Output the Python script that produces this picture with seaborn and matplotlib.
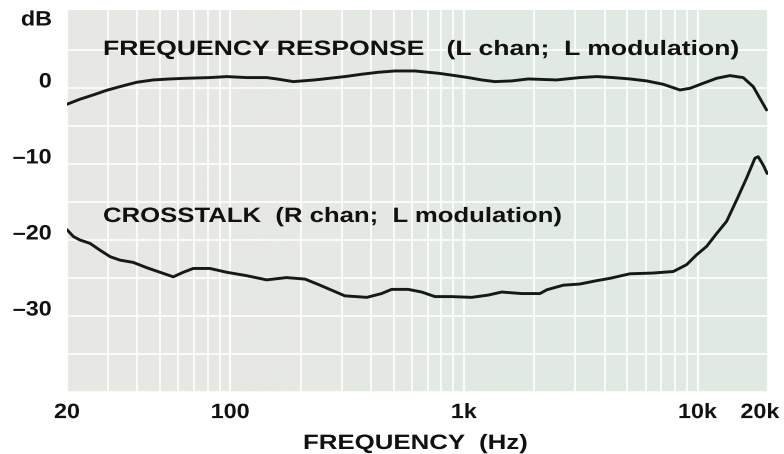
import numpy as np
import pandas as pd
import matplotlib
matplotlib.use("Agg")
import matplotlib.pyplot as plt
from matplotlib.ticker import FixedLocator, LogLocator, NullFormatter
from matplotlib.colors import LinearSegmentedColormap
from matplotlib.patheffects import AbstractPathEffect
from matplotlib.transforms import Affine2D, ScaledTranslation
import seaborn as sns

# Frequency response, left channel with left modulation (dB)
fr_freq = [20, 22.7, 25.9, 29.6, 33.7, 39.7, 46.8, 55.2, 65, 81.8, 96.5, 117.5,
           143, 158, 186, 230, 309, 365, 430, 506, 617, 776, 915, 1043, 1190,
           1357, 1600, 1884, 2490, 3130, 3700, 4350, 5130, 6050, 7120, 8400,
           9270, 10560, 12060, 13740, 15660, 17290, 18460, 19720]
fr_db = [-3.2, -2.54, -1.97, -1.36, -0.88, -0.31, 0.0, 0.13, 0.22, 0.31, 0.44,
         0.31, 0.31, 0.13, -0.22, 0.0, 0.44, 0.75, 1.01, 1.18, 1.18, 0.88, 0.57,
         0.31, 0.0, -0.22, -0.13, 0.13, 0.0, 0.31, 0.44, 0.31, 0.13, -0.13,
         -0.57, -1.32, -1.10, -0.44, 0.22, 0.57, 0.31, -0.88, -2.41, -3.95]

# Crosstalk, right channel with left modulation (dB)
ct_freq = [20, 21.3, 22.7, 25.1, 27.7, 30.6, 33.7, 38.4, 43.9, 50, 57, 62.9,
           69.4, 81.8, 96.5, 117.5, 143, 174, 209, 242, 309, 384, 444, 490,
           577, 659, 751, 885, 1078, 1270, 1449, 1765, 2114, 2264, 2660, 3130,
           3700, 4210, 5130, 6450, 7860, 8970, 9900, 10920, 12060, 13300,
           14680, 16200, 17580, 18160, 19080, 19840]
ct_db = [-19.7, -20.6, -21.05, -21.5, -22.4, -23.25, -23.7, -24.0, -24.7, -25.3,
         -25.9, -25.3, -24.8, -24.8, -25.3, -25.75, -26.3, -26.0, -26.2, -27.0,
         -28.4, -28.6, -28.1, -27.55, -27.55, -27.9, -28.5, -28.5, -28.6, -28.3,
         -27.9, -28.1, -28.1, -27.6, -27.0, -26.85, -26.4, -26.1, -25.5, -25.4,
         -25.2, -24.3, -23.0, -21.9, -20.2, -18.6, -15.8, -12.9, -10.3, -10.1,
         -11.2, -12.3]

x_ticks = [20, 100, 1000, 10000, 20000]
x_labels = ["20", "100", "1k", "10k", "20k"]
y_ticks = [0, -10, -20, -30]
y_labels = ["0", "\u201310", "\u201320", "\u201330"]


class HStretch(AbstractPathEffect):
    """Widen glyphs horizontally (loose typewriter set) about a chosen anchor."""

    def __init__(self, sx=1.0, anchor="left"):
        super().__init__()
        self.sx = sx
        self.anchor = anchor

    def draw_path(self, renderer, gc, tpath, affine, rgbFace=None):
        ext = tpath.get_extents()
        a = {"left": 0.0, "center": (ext.x0 + ext.x1) / 2, "right": ext.x1}[self.anchor]
        stretch = Affine2D().translate(-a, 0).scale(self.sx, 1.0).translate(a, 0)
        renderer.draw_path(gc, tpath, stretch + affine, rgbFace)


sns.set_theme(style="white")
plt.rcParams["font.family"] = ["Liberation Sans", "DejaVu Sans"]

W, H = 784, 454
fig = plt.figure(figsize=(W / 100, H / 100), dpi=100)
ax = fig.add_axes([67 / W, 1 - 392 / H, 701 / W, 382 / H])

# paper background: warm grey fading into a pale green toward the treble end
bg = LinearSegmentedColormap.from_list(
    "paper", ["#e8e8e3", "#e6e8e3", "#e1eae4", "#e2e9e3"])
ax.imshow(np.linspace(0, 1, 256)[None, :], cmap=bg, extent=[0, 1, 0, 1],
          transform=ax.transAxes, aspect="auto", zorder=0)

fr = pd.DataFrame({"freq": fr_freq, "db": fr_db})
ct = pd.DataFrame({"freq": ct_freq, "db": ct_db})
for d in (fr, ct):
    sns.lineplot(data=d, x="freq", y="db", ax=ax, color="#161a17",
                 linewidth=2.1, zorder=3, sort=True)

ax.set_xscale("log")
ax.set_xlim(20, 20000)
ax.set_ylim(-41.05, 9.2)

ax.xaxis.set_major_locator(FixedLocator(x_ticks))
ax.set_xticklabels(x_labels)
ax.xaxis.set_minor_locator(LogLocator(base=10, subs=np.arange(2, 10)))
ax.xaxis.set_minor_formatter(NullFormatter())
ax.yaxis.set_major_locator(FixedLocator(y_ticks))
ax.set_yticklabels(y_labels)
ax.yaxis.set_minor_locator(FixedLocator(np.arange(-41, 9, 5)))

ax.grid(False)
ax.grid(which="minor", axis="both", color="white", linewidth=1.3, alpha=0.9, zorder=1)
ax.grid(which="major", axis="x", color="white", linewidth=1.6, alpha=0.9, zorder=1)

for s in ax.spines.values():
    s.set_visible(False)
ax.tick_params(which="both", length=0)
ax.tick_params(axis="y", pad=11, labelsize=15)
ax.tick_params(axis="x", pad=8, labelsize=15)
for lab in ax.get_xticklabels():
    lab.set_fontweight("bold")
    lab.set_color("#111111")
    lab.set_path_effects([HStretch(1.12, "center")])
for lab in ax.get_yticklabels():
    lab.set_fontweight("bold")
    lab.set_color("#111111")
    lab.set_path_effects([HStretch(1.12, "right")])
# keep the 20k label clear of the right edge
last = ax.get_xticklabels()[-1]
last.set_transform(last.get_transform() + ScaledTranslation(-8 / 100, 0, fig.dpi_scale_trans))
ax.set_xlabel("")
ax.set_ylabel("")

unit = fig.text(52 / W, 1 - 20 / H, "dB", ha="right", va="center",
                fontsize=15, fontweight="bold", color="#111111")
unit.set_path_effects([HStretch(1.12, "right")])

# captions set in a loosely spaced bold face: (text, left px, baseline px, width px)
captions = [
    ("FREQUENCY RESPONSE   (L chan;  L modulation)", 103, 55, 637),
    ("CROSSTALK  (R chan;  L modulation)", 103, 222, 460),
    ("FREQUENCY  (Hz)", 303, 449, 225),
]
renderer = fig.canvas.get_renderer()
for txt, left, base, width in captions:
    t = fig.text(left / W, 1 - base / H, txt, ha="left", va="baseline",
                 fontsize=15, fontweight="bold", color="#111111")
    natural = t.get_window_extent(renderer).width
    t.set_path_effects([HStretch(width / natural)])

fig.savefig("out.png", dpi=100)
